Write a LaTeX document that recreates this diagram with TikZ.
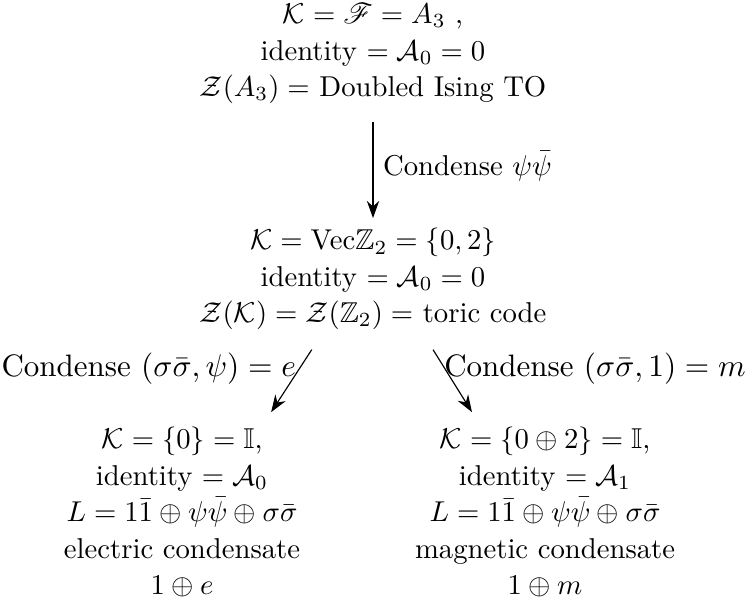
\documentclass[tikz,border=0pt]{standalone}
\usepackage{amsmath,amssymb,amsfonts}
\usepackage{mathrsfs}
\usepackage{tikz}
\usetikzlibrary{positioning, arrows.meta}

\begin{document}
\begin{tikzpicture}[auto, >={Stealth[length=2.1mm,width=1.5mm]}]
  \useasboundingbox (0,0) rectangle (9.136,7.507);
  \tikzset{phase/.style={align=center, font=\fontsize{10}{12.7}\selectfont},
           condlabel/.style={inner sep=0.5pt, yshift=-0.05cm, font=\fontsize{10.8}{13}\selectfont}}

  \node (ising) [phase] at (4.568,6.85) {$\mathcal{K}=\mathscr{F}=A_3$ ,\\ identity $=\mathcal{A}_0=0$\\ $\mathcal{Z}(A_3)=$ Doubled Ising TO};
  \node (toric) [phase] at (4.568,4.090) {$\mathcal{K}=\mathrm{Vec}\mathbb{Z}_2=\{0,2\}$\\ identity $=\mathcal{A}_0=0$\\ $\mathcal{Z}(\mathcal{K})=\mathcal{Z}(\mathbb{Z}_2)=$ toric code};
  \node (elec) [phase] at (2.229,1.237) {$\mathcal{K}=\{0\}=\mathbb{I}$,\\ identity $=\mathcal{A}_0$\\ $L=1\bar{1}\oplus\psi\bar{\psi}\oplus\sigma\bar{\sigma}$\\ electric condensate\\ $1\oplus e$};
  \node (magn) [phase] at (6.675,1.237) {$\mathcal{K}=\{0\oplus 2\}=\mathbb{I}$,\\ identity $=\mathcal{A}_1$\\ $L=1\bar{1}\oplus\psi\bar{\psi}\oplus\sigma\bar{\sigma}$\\ magnetic condensate\\ $1\oplus m$};

  \draw [->, shorten <=3pt] (ising) -- node {Condense $\psi\bar{\psi}$} (toric);
  \draw [->, shorten <=4pt, shorten >=2pt] ([xshift=-0.673cm]toric.south) -- node [condlabel, pos=0.32, anchor=east, xshift=-0.05cm] {Condense $(\sigma\bar{\sigma},\psi)=e$} ([xshift=1.053cm]elec.north);
  \draw [->, shorten <=4pt, shorten >=2pt] ([xshift=0.661cm]toric.south) -- node [condlabel, pos=0.32, anchor=west] {Condense $(\sigma\bar{\sigma},1)=m$} ([xshift=-0.858cm]magn.north);
\end{tikzpicture}
\end{document}
